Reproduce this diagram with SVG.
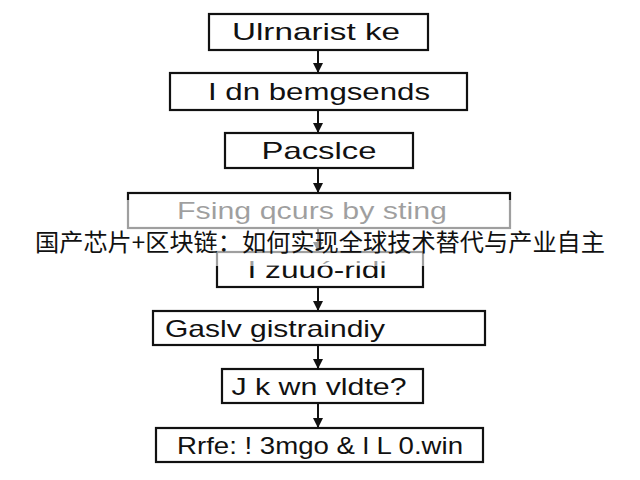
<svg xmlns="http://www.w3.org/2000/svg" width="640" height="480" viewBox="0 0 640 480">
<style>
.box{fill:#fff;stroke:#111;stroke-width:2.2}
.lbl{font-family:"Liberation Sans",Arial,sans-serif;font-size:24px;fill:#111;text-anchor:middle}
.con{stroke:#111;stroke-width:2;fill:none}
.title{font-family:"Noto Sans CJK SC","Noto Sans",sans-serif;font-size:24px;fill:#111;text-anchor:middle}
</style>
<defs>
<marker id="ah" viewBox="0 0 10 10" refX="10" refY="5" markerWidth="5" markerHeight="5" orient="auto" markerUnits="strokeWidth">
<path d="M0,0 L10,5 L0,10 z" fill="#111"/>
</marker>
</defs>
<rect width="640" height="480" fill="#fff"/>
<g id="connectors">
<line class="con" x1="318" y1="50" x2="318" y2="73" marker-end="url(#ah)"/>
<line class="con" x1="318" y1="110" x2="318" y2="133" marker-end="url(#ah)"/>
<line class="con" x1="318" y1="168" x2="318" y2="193" marker-end="url(#ah)"/>
<line class="con" x1="318" y1="228" x2="318" y2="252" marker-end="url(#ah)"/>
<line class="con" x1="318" y1="287" x2="318" y2="311" marker-end="url(#ah)"/>
<line class="con" x1="318" y1="345" x2="318" y2="369" marker-end="url(#ah)"/>
<line class="con" x1="318" y1="403" x2="318" y2="428" marker-end="url(#ah)"/>
</g>
<g id="n1"><rect class="box" x="209" y="14" width="219" height="36"/><text class="lbl" x="316" y="40" textLength="168" lengthAdjust="spacingAndGlyphs">Ulrnarist ke</text></g>
<g id="n2"><rect class="box" x="170" y="73" width="297" height="37"/><text class="lbl" x="319" y="100" textLength="222" lengthAdjust="spacingAndGlyphs">I dn bemgsends</text></g>
<g id="n3"><rect class="box" x="225" y="133" width="188" height="35"/><text class="lbl" x="319" y="159" textLength="115" lengthAdjust="spacingAndGlyphs">Pacslce</text></g>
<g id="n4"><rect class="box" x="128" y="193" width="382" height="35"/><text class="lbl" x="312" y="219" textLength="270" lengthAdjust="spacingAndGlyphs">Fsing qcurs by sting</text></g>
<g id="n5"><rect class="box" x="217" y="252" width="206" height="35"/><text class="lbl" x="317" y="278" textLength="139" lengthAdjust="spacingAndGlyphs">I zuuó-ridi</text></g>
<g id="n6"><rect class="box" x="153" y="311" width="332" height="34"/><text class="lbl" x="275" y="337" textLength="220" lengthAdjust="spacingAndGlyphs">Gaslv gistraindiy</text></g>
<g id="n7"><rect class="box" x="222" y="369" width="201" height="34"/><text class="lbl" x="319" y="395" textLength="175" lengthAdjust="spacingAndGlyphs">J k wn vldte?</text></g>
<g id="n8"><rect class="box" x="156" y="428" width="327" height="34"/><text class="lbl" x="320" y="454" textLength="286" lengthAdjust="spacingAndGlyphs">Rrfe: ! 3mgo &amp; l L 0.win</text></g>
<rect x="0" y="200" width="640" height="66" fill="#fff" fill-opacity="0.6"/>
<text class="title" x="320" y="251" textLength="570" lengthAdjust="spacingAndGlyphs">国产芯片+区块链：如何实现全球技术替代与产业自主</text>
</svg>
